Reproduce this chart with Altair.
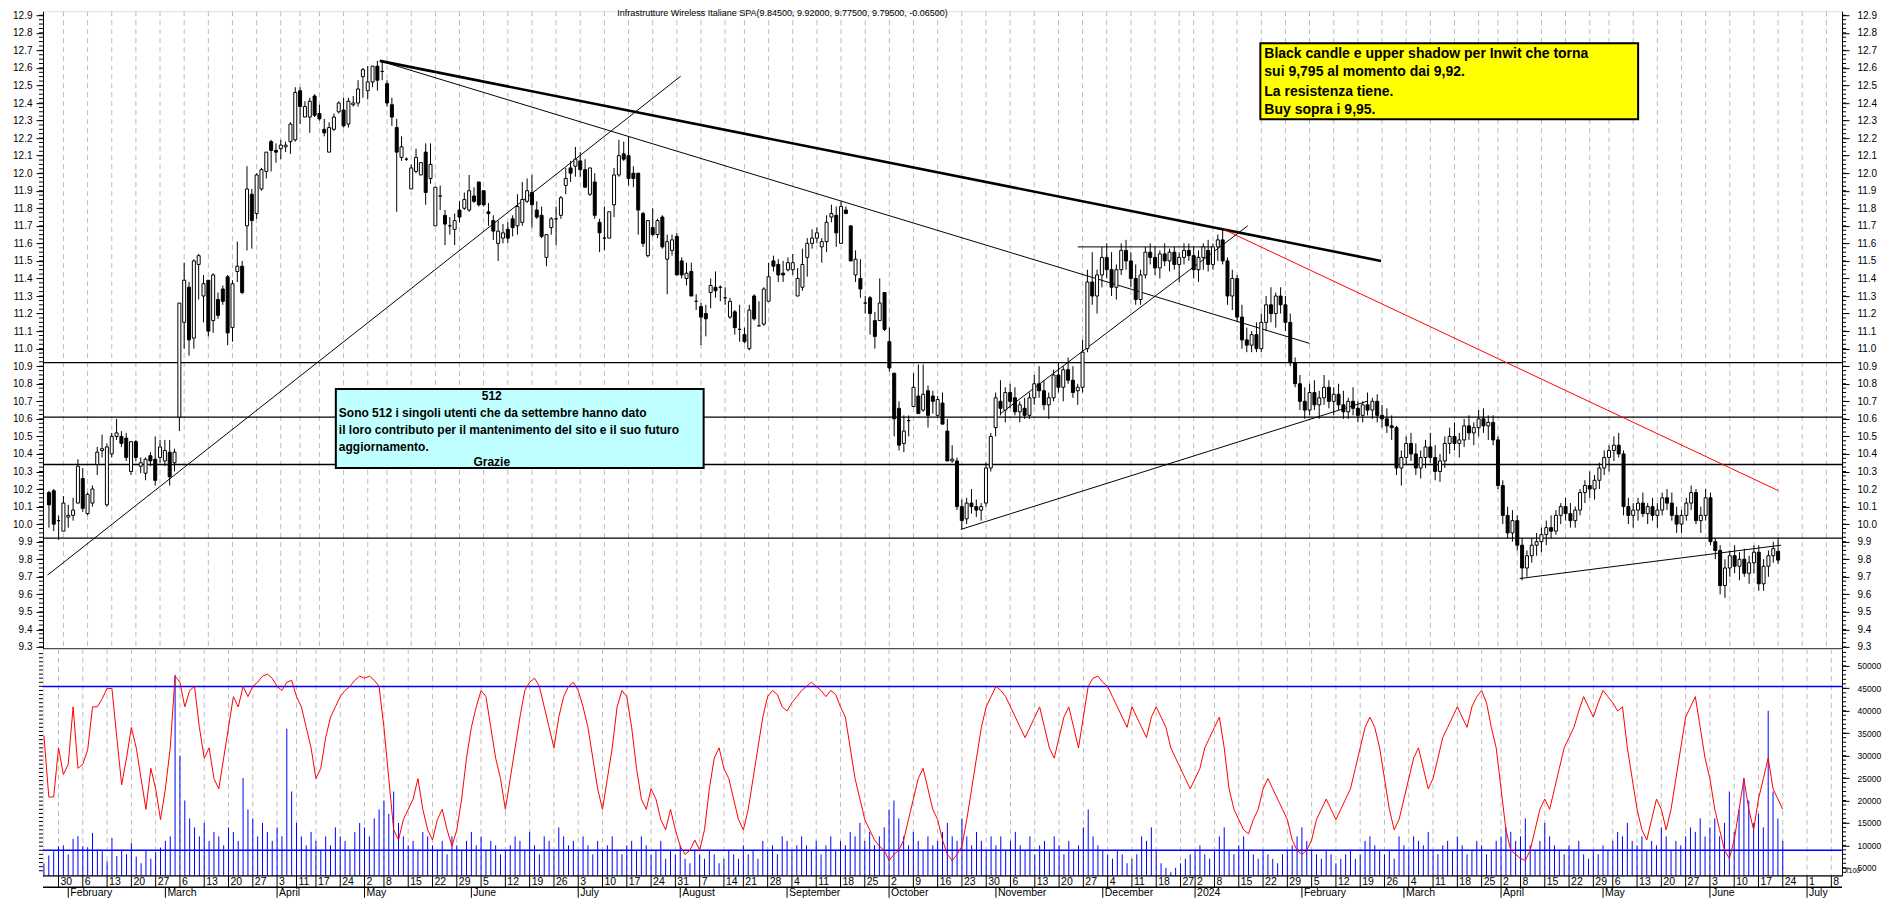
import altair as alt
import pandas as pd

# ---------------- layout ----------------
W = 1800
H1 = 638
H2 = 227
X_DOMAIN = [-0.2, 370.2]
P_DOMAIN = [9.289, 12.923]
OSC_DOMAIN = [-2.44, 108.3]
VOL_DOMAIN = [3218, 53787]
FONT = "Liberation Sans"

# ---------------- calendar ----------------
FIRST_DAY = "2023-01-25"
AXIS_END = "2024-07-10"
HOLIDAYS = ["2023-04-07", "2023-04-10", "2023-05-01", "2023-08-15", "2023-12-25",
            "2023-12-26", "2024-01-01", "2024-03-29", "2024-04-01", "2024-05-01"]

# ---------------- data ----------------
OPEN = [
    10.18, 10.19, 10.02, 9.96, 10.04, 10.05, 10.12, 10.26, 10.06, 10.12,
    10.34, 10.42, 10.11, 10.40, 10.50, 10.50, 10.49, 10.30, 10.47, 10.33,
    10.29, 10.39, 10.37, 10.38, 10.36, 10.41, 10.35, 10.61, 11.15, 11.35,
    11.06, 11.48, 11.30, 11.39, 11.16, 11.28, 11.34, 11.41, 11.12, 11.44,
    11.47, 11.70, 11.88, 11.77, 11.91, 12.01, 12.18, 12.13, 12.14, 12.15,
    12.18, 12.19, 12.47, 12.32, 12.32, 12.44, 12.34, 12.25, 12.12, 12.25,
    12.35, 12.36, 12.28, 12.39, 12.40, 12.55, 12.47, 12.52, 12.61, 12.58,
    12.51, 12.39, 12.26, 12.09, 12.08, 11.91, 12.01, 11.99, 12.12, 11.97,
    11.70, 11.87, 11.76, 11.70, 11.68, 11.79, 11.80, 11.79, 11.87, 11.95,
    11.90, 11.78, 11.73, 11.60, 11.63, 11.68, 11.74, 11.70, 11.72, 11.84,
    11.89, 11.79, 11.76, 11.52, 11.69, 11.74, 11.76, 11.93, 12.03, 12.04,
    12.07, 12.02, 11.88, 11.95, 11.72, 11.63, 11.63, 11.82, 11.99, 12.11,
    12.10, 12.00, 12.00, 11.77, 11.53, 11.69, 11.65, 11.75, 11.51, 11.56,
    11.64, 11.50, 11.40, 11.44, 11.27, 11.24, 11.20, 11.32, 11.35, 11.35,
    11.29, 11.18, 11.21, 11.11, 11.08, 11.00, 11.30, 11.13, 11.14, 11.27,
    11.50, 11.48, 11.43, 11.45, 11.45, 11.30, 11.35, 11.52, 11.60, 11.63,
    11.58, 11.61, 11.75, 11.76, 11.60, 11.79, 11.70, 11.42, 11.40, 11.26,
    11.29, 11.16, 11.16, 11.32, 11.04, 10.86, 10.66, 10.46, 10.59, 10.67,
    10.73, 10.65, 10.76, 10.73, 10.62, 10.69, 10.53, 10.36,
    10.36, 10.10, 10.03, 10.12, 10.10, 10.08, 10.12, 10.32, 10.55, 10.70,
    10.65, 10.75, 10.72, 10.64, 10.66, 10.62, 10.72, 10.80, 10.76, 10.68,
    10.72, 10.85, 10.78, 10.88, 10.82, 10.76, 10.78, 11.00, 11.38, 11.30,
    11.42, 11.52, 11.45, 11.35, 11.45, 11.56, 11.50, 11.40, 11.28, 11.42,
    11.55, 11.52, 11.46, 11.54, 11.50, 11.55, 11.48, 11.52, 11.56, 11.53,
    11.45, 11.52, 11.56, 11.48, 11.58, 11.62, 11.50, 11.30, 11.40, 11.18,
    11.05, 11.02, 11.08, 11.00, 11.15, 11.25, 11.20, 11.30, 11.25, 11.15,
    10.92, 10.80, 10.70, 10.65, 10.75, 10.68, 10.72, 10.78, 10.70, 10.74,
    10.68, 10.64, 10.70, 10.66, 10.62, 10.68, 10.65, 10.70, 10.62, 10.60,
    10.56, 10.55, 10.32, 10.38, 10.46, 10.40, 10.32, 10.38, 10.44, 10.38,
    10.30, 10.36, 10.46, 10.50, 10.46, 10.48, 10.56, 10.52, 10.55, 10.60,
    10.56, 10.58, 10.48, 10.22, 10.05, 9.95, 10.02, 9.88, 9.75, 9.82,
    9.88, 9.90, 9.94, 9.98, 9.96, 10.05, 10.10, 10.06, 10.02, 10.08,
    10.18, 10.22, 10.20, 10.25, 10.32, 10.38, 10.42, 10.45, 10.40, 10.10,
    10.05, 10.08, 10.12, 10.06, 10.10, 10.05, 10.08, 10.15, 10.12, 10.05,
    10.00, 10.05, 10.12, 10.18, 10.02, 10.05, 10.15, 9.90, 9.85, 9.65,
    9.75, 9.82, 9.76, 9.80, 9.72, 9.78, 9.84, 9.66, 9.76, 9.82, 9.845,
]
HIGH = [
    10.19, 10.20, 10.05, 10.16, 10.11, 10.15, 10.37, 10.32, 10.18, 10.22,
    10.44, 10.51, 10.46, 10.52, 10.60, 10.53, 10.52, 10.47, 10.48, 10.38,
    10.38, 10.41, 10.50, 10.48, 10.48, 10.48, 10.43, 11.26, 11.49, 11.38,
    11.51, 11.54, 11.42, 11.39, 11.43, 11.32, 11.36, 11.42, 11.39, 11.61,
    11.50, 12.04, 11.91, 12.00, 12.03, 12.12, 12.19, 12.17, 12.19, 12.18,
    12.29, 12.49, 12.49, 12.41, 12.43, 12.45, 12.39, 12.31, 12.29, 12.34,
    12.41, 12.43, 12.43, 12.44, 12.53, 12.60, 12.61, 12.61, 12.64, 12.64,
    12.53, 12.43, 12.31, 12.21, 12.09, 12.05, 12.14, 12.06, 12.17, 12.17,
    11.92, 11.93, 11.79, 11.75, 11.77, 11.84, 11.89, 11.99, 11.92, 11.95,
    11.90, 11.83, 11.76, 11.73, 11.71, 11.72, 11.76, 11.88, 11.95, 11.97,
    11.99, 11.84, 11.81, 11.65, 11.75, 11.81, 11.87, 12.03, 12.07, 12.15,
    12.12, 12.08, 12.03, 12.00, 11.74, 11.81, 11.78, 12.03, 12.19, 12.18,
    12.21, 12.04, 12.00, 11.78, 11.73, 11.80, 11.74, 11.76, 11.65, 11.65,
    11.66, 11.52, 11.49, 11.49, 11.31, 11.26, 11.25, 11.40, 11.44, 11.36,
    11.35, 11.29, 11.22, 11.25, 11.12, 11.25, 11.31, 11.27, 11.35, 11.49,
    11.53, 11.51, 11.50, 11.52, 11.54, 11.46, 11.57, 11.63, 11.68, 11.69,
    11.63, 11.76, 11.82, 11.81, 11.84, 11.81, 11.70, 11.56, 11.51, 11.30,
    11.30, 11.21, 11.40, 11.32, 11.12, 10.86, 10.70, 10.62, 10.62, 10.86,
    10.91, 10.91, 10.79, 10.76, 10.73, 10.75, 10.60, 10.45,
    10.38, 10.14, 10.15, 10.20, 10.14, 10.12, 10.35, 10.52, 10.75, 10.82,
    10.78, 10.80, 10.78, 10.70, 10.72, 10.75, 10.85, 10.90, 10.82, 10.75,
    10.88, 10.92, 10.90, 10.95, 10.90, 10.80, 11.05, 11.45, 11.55, 11.45,
    11.58, 11.60, 11.55, 11.48, 11.60, 11.62, 11.55, 11.48, 11.45, 11.58,
    11.60, 11.58, 11.56, 11.60, 11.57, 11.58, 11.55, 11.60, 11.60, 11.58,
    11.56, 11.60, 11.62, 11.60, 11.65, 11.68, 11.52, 11.45, 11.42, 11.25,
    11.12, 11.10, 11.15, 11.20, 11.30, 11.35, 11.32, 11.35, 11.30, 11.20,
    10.95, 10.85, 10.78, 10.80, 10.82, 10.76, 10.85, 10.82, 10.78, 10.80,
    10.76, 10.72, 10.78, 10.70, 10.70, 10.75, 10.72, 10.74, 10.68, 10.66,
    10.62, 10.56, 10.42, 10.50, 10.52, 10.46, 10.42, 10.48, 10.52, 10.45,
    10.40, 10.50, 10.55, 10.58, 10.52, 10.60, 10.62, 10.58, 10.65, 10.66,
    10.62, 10.62, 10.50, 10.25, 10.10, 10.08, 10.05, 9.92, 9.85, 9.92,
    9.95, 9.98, 10.02, 10.05, 10.08, 10.12, 10.15, 10.12, 10.10, 10.20,
    10.25, 10.30, 10.28, 10.35, 10.42, 10.45, 10.50, 10.52, 10.42, 10.15,
    10.12, 10.15, 10.18, 10.12, 10.15, 10.12, 10.18, 10.20, 10.18, 10.10,
    10.08, 10.15, 10.22, 10.20, 10.10, 10.20, 10.18, 9.92, 9.88, 9.80,
    9.85, 9.88, 9.84, 9.86, 9.82, 9.88, 9.88, 9.80, 9.85, 9.90, 9.92,
]
LOW = [
    9.98, 9.96, 9.91, 9.96, 9.98, 10.02, 10.12, 10.07, 10.05, 10.10,
    10.28, 10.38, 10.10, 10.38, 10.48, 10.44, 10.36, 10.28, 10.36, 10.29,
    10.25, 10.33, 10.22, 10.35, 10.33, 10.22, 10.30, 10.53, 11.00, 10.96,
    11.00, 11.28, 11.15, 11.07, 11.09, 11.17, 11.25, 11.02, 11.04, 11.38,
    11.31, 11.56, 11.57, 11.74, 11.90, 11.97, 12.01, 12.06, 12.08, 12.12,
    12.11, 12.18, 12.28, 12.32, 12.23, 12.32, 12.30, 12.21, 12.12, 12.24,
    12.34, 12.26, 12.26, 12.38, 12.38, 12.43, 12.42, 12.49, 12.47, 12.53,
    12.38, 12.27, 11.78, 12.07, 12.07, 11.91, 12.00, 11.99, 11.82, 11.94,
    11.70, 11.79, 11.59, 11.65, 11.59, 11.72, 11.79, 11.78, 11.83, 11.81,
    11.81, 11.70, 11.62, 11.50, 11.60, 11.60, 11.64, 11.65, 11.70, 11.83,
    11.69, 11.74, 11.63, 11.47, 11.65, 11.59, 11.74, 11.88, 11.95, 11.98,
    11.98, 11.92, 11.87, 11.74, 11.55, 11.56, 11.63, 11.75, 11.98, 12.07,
    11.93, 11.92, 11.65, 11.58, 11.52, 11.64, 11.63, 11.57, 11.31, 11.53,
    11.42, 11.40, 11.36, 11.30, 11.22, 11.02, 11.07, 11.23, 11.29, 11.27,
    11.25, 11.17, 11.08, 11.04, 11.03, 10.99, 11.16, 11.13, 11.13, 11.27,
    11.44, 11.38, 11.38, 11.44, 11.42, 11.30, 11.33, 11.41, 11.57, 11.60,
    11.49, 11.55, 11.72, 11.58, 11.60, 11.77, 11.50, 11.38, 11.29, 11.20,
    11.08, 11.00, 11.16, 11.10, 10.87, 10.50, 10.42, 10.41, 10.50, 10.67,
    10.63, 10.64, 10.55, 10.63, 10.61, 10.57, 10.36, 10.35,
    10.08, 9.97, 10.00, 10.06, 10.04, 10.02, 10.10, 10.30, 10.50, 10.62,
    10.58, 10.66, 10.62, 10.58, 10.60, 10.60, 10.68, 10.72, 10.65, 10.60,
    10.70, 10.75, 10.70, 10.80, 10.72, 10.68, 10.75, 10.98, 11.25, 11.20,
    11.35, 11.40, 11.30, 11.28, 11.42, 11.45, 11.35, 11.25, 11.25, 11.40,
    11.48, 11.42, 11.40, 11.47, 11.44, 11.45, 11.38, 11.48, 11.50, 11.40,
    11.38, 11.45, 11.44, 11.45, 11.50, 11.48, 11.25, 11.22, 11.15, 11.00,
    10.98, 10.98, 10.98, 10.98, 11.10, 11.15, 11.12, 11.20, 11.10, 10.90,
    10.78, 10.65, 10.60, 10.62, 10.65, 10.60, 10.68, 10.66, 10.62, 10.65,
    10.60, 10.60, 10.62, 10.58, 10.58, 10.62, 10.60, 10.58, 10.55, 10.52,
    10.48, 10.28, 10.22, 10.34, 10.36, 10.28, 10.26, 10.32, 10.35, 10.25,
    10.24, 10.32, 10.40, 10.42, 10.38, 10.44, 10.48, 10.45, 10.50, 10.52,
    10.48, 10.45, 10.20, 10.00, 9.92, 9.90, 9.85, 9.68, 9.70, 9.78,
    9.82, 9.84, 9.88, 9.92, 9.94, 10.00, 10.02, 9.98, 9.98, 10.05,
    10.12, 10.15, 10.14, 10.20, 10.28, 10.30, 10.36, 10.38, 10.05, 10.00,
    9.98, 10.02, 10.04, 10.00, 10.02, 9.98, 10.05, 10.08, 10.02, 9.95,
    9.95, 10.02, 10.08, 10.00, 9.95, 10.02, 9.88, 9.80, 9.60, 9.58,
    9.70, 9.72, 9.68, 9.70, 9.66, 9.72, 9.62, 9.62, 9.70, 9.78, 9.775,
]
CLOSE = [
    10.11, 10.00, 10.02, 10.12, 10.05, 10.08, 10.33, 10.09, 10.17, 10.20,
    10.41, 10.43, 10.44, 10.50, 10.52, 10.46, 10.38, 10.47, 10.38, 10.35,
    10.37, 10.36, 10.25, 10.44, 10.42, 10.27, 10.41, 11.26, 11.39, 11.05,
    11.50, 11.53, 11.37, 11.10, 11.42, 11.19, 11.27, 11.09, 11.37, 11.47,
    11.32, 11.91, 11.73, 11.99, 12.02, 12.12, 12.13, 12.12, 12.16, 12.16,
    12.28, 12.46, 12.38, 12.38, 12.41, 12.33, 12.31, 12.23, 12.26, 12.32,
    12.40, 12.27, 12.41, 12.40, 12.48, 12.59, 12.52, 12.61, 12.53, 12.58,
    12.40, 12.32, 12.12, 12.15, 12.08, 12.03, 12.09, 12.06, 11.89, 12.05,
    11.92, 11.87, 11.71, 11.70, 11.73, 11.75, 11.85, 11.90, 11.84, 11.82,
    11.82, 11.77, 11.67, 11.67, 11.66, 11.63, 11.69, 11.81, 11.85, 11.90,
    11.82, 11.75, 11.64, 11.65, 11.74, 11.74, 11.86, 11.97, 12.00, 12.08,
    12.02, 11.92, 12.03, 11.76, 11.66, 11.63, 11.78, 11.99, 12.10, 12.08,
    11.97, 11.97, 11.79, 11.60, 11.73, 11.65, 11.73, 11.58, 11.61, 11.62,
    11.42, 11.42, 11.43, 11.30, 11.27, 11.18, 11.17, 11.36, 11.33, 11.35,
    11.29, 11.27, 11.12, 11.11, 11.04, 11.22, 11.17, 11.13, 11.34, 11.41,
    11.47, 11.42, 11.42, 11.49, 11.49, 11.40, 11.48, 11.60, 11.63, 11.66,
    11.61, 11.72, 11.77, 11.66, 11.81, 11.77, 11.50, 11.51, 11.34, 11.26,
    11.20, 11.07, 11.26, 11.11, 10.89, 10.60, 10.45, 10.53, 10.59, 10.78,
    10.63, 10.74, 10.62, 10.70, 10.71, 10.57, 10.36, 10.37,
    10.10, 10.02, 10.12, 10.10, 10.08, 10.10, 10.32, 10.50, 10.72, 10.66,
    10.75, 10.70, 10.64, 10.68, 10.62, 10.72, 10.80, 10.76, 10.68, 10.72,
    10.85, 10.78, 10.88, 10.82, 10.75, 10.78, 10.98, 11.38, 11.30, 11.42,
    11.52, 11.45, 11.35, 11.45, 11.56, 11.50, 11.40, 11.28, 11.42, 11.55,
    11.52, 11.46, 11.54, 11.50, 11.55, 11.48, 11.52, 11.56, 11.53, 11.45,
    11.52, 11.58, 11.48, 11.58, 11.62, 11.50, 11.30, 11.40, 11.18, 11.05,
    11.02, 11.08, 11.00, 11.15, 11.25, 11.20, 11.30, 11.25, 11.15, 10.92,
    10.80, 10.70, 10.65, 10.75, 10.68, 10.72, 10.78, 10.70, 10.74, 10.68,
    10.64, 10.70, 10.66, 10.62, 10.68, 10.65, 10.70, 10.62, 10.60, 10.56,
    10.55, 10.32, 10.38, 10.46, 10.40, 10.32, 10.38, 10.44, 10.38, 10.30,
    10.36, 10.46, 10.50, 10.46, 10.48, 10.56, 10.52, 10.55, 10.60, 10.56,
    10.58, 10.48, 10.22, 10.05, 9.95, 10.02, 9.88, 9.75, 9.82, 9.88,
    9.90, 9.94, 9.98, 9.96, 10.05, 10.10, 10.06, 10.02, 10.08, 10.18,
    10.22, 10.20, 10.25, 10.32, 10.38, 10.42, 10.45, 10.40, 10.10, 10.05,
    10.08, 10.12, 10.06, 10.10, 10.05, 10.08, 10.15, 10.12, 10.05, 10.00,
    10.05, 10.12, 10.18, 10.02, 10.05, 10.15, 9.90, 9.85, 9.65, 9.75,
    9.82, 9.76, 9.80, 9.72, 9.78, 9.84, 9.66, 9.76, 9.82, 9.86, 9.795,
]
VOLUME = [
    5960, 7740, 8700, 9800, 10000, 7960, 11450, 12040, 9800, 9580, 12780, 9060, 8700, 6470, 11670, 7600,
    9000, 8000, 10500, 7500, 6000, 9000, 7000, 8500, 9500, 11000, 12000,
    48000, 30000, 20000, 16000, 14000, 12000, 15000, 11000, 13000,
    12000, 10000, 14000, 13000, 11000, 25000, 18000, 16000, 12000, 15000, 13000, 11000,
    14000, 12000, 36000, 22000, 15000, 12000, 10000, 13000, 11000, 9000, 12000, 10000, 14000, 12000, 11000, 9000, 13000, 15000,
    14000, 12000, 16000, 18000, 20000, 17000, 22000, 15000, 12000, 10000,
    11000, 9000, 13000, 12000, 10000, 9000, 11000, 8000, 12000, 10000, 9000, 11000, 13000, 10000, 12000, 9000, 11000, 10000, 8000, 9000,
    10000, 12000, 11000, 9000, 13000, 10000, 8000, 12000, 11000, 9000, 14000, 12000, 10000, 11000, 9000, 12000, 10000, 8000,
    11000, 9000, 10000, 12000, 9000, 8000, 10000, 11000, 9000, 12000, 10000, 8000, 9000, 11000, 7000, 9000, 8000, 10000, 7000, 6000, 9000, 8000,
    7000, 9000, 8000, 6000, 7000, 9000, 8000, 7000, 10000, 8000, 9000, 7000, 11000, 9000, 10000, 8000, 12000, 11000, 9000, 10000, 12000,
    10000, 9000, 11000, 8000, 10000, 12000, 9000, 11000, 10000, 13000, 12000, 15000, 11000, 13000, 10000, 12000, 14000, 18000, 20000,
    16000, 12000, 10000, 13000, 11000, 9000, 12000, 10000, 11000, 13000, 15000, 12000, 11000, 16000, 12000, 10000, 13000, 11000, 9000, 12000,
    10000, 12000, 9000, 11000, 13000, 10000, 9000, 12000, 8000, 10000, 11000, 9000, 12000, 10000, 8000, 11000, 9000, 10000, 14000, 18000, 12000, 10000,
    9000, 8000, 7000, 9000, 8000, 6000, 7000, 8000, 12000, 11000, 14000, 9000, 6000, 5000, 4000, 5000, 6000, 7000, 8000,
    9000, 10000, 8000, 7000, 9000, 12000, 14000, 9000, 8000, 10000, 12000, 9000, 8000, 7000, 9000, 8000, 7000, 6000, 8000, 9000, 10000, 12000,
    14000, 11000, 9000, 8000, 7000, 9000, 8000, 6000, 7000, 8000, 9000, 7000, 8000, 11000, 12000, 10000, 9000, 8000, 9000, 7000, 12000,
    10000, 9000, 12000, 11000, 10000, 13000, 9000, 8000, 10000, 11000, 9000, 12000, 10000, 8000, 9000, 11000, 10000, 8000, 9000, 11000,
    12000, 14000, 13000, 11000, 12000, 16000, 10000, 9000, 11000, 15000, 12000, 10000, 9000, 8000, 10000, 9000, 11000, 8000, 7000, 9000, 8000,
    10000, 9000, 11000, 13000, 12000, 15000, 11000, 10000, 12000, 9000, 11000, 10000, 14000, 12000, 9000, 11000, 10000, 12000, 14000, 13000, 16000, 12000,
    14000, 16000, 12000, 15000, 22000, 13000, 18000, 25000, 20000, 15000, 17000, 14000, 40000, 22000, 16000, 11000,
]
OSC = [
    66, 36, 36, 60, 47, 52, 80, 50, 52, 59, 80, 80, 84, 89, 89, 65, 42,
    55, 70, 60, 45, 30, 50, 40, 25, 40, 60,
    95, 92, 80, 88, 90, 70, 55, 60, 45,
    40, 55, 70, 85, 80, 90, 85, 90, 92, 95, 96, 94,
    90, 88, 92, 93, 85, 80, 70, 60, 45, 50, 65, 75, 80, 85, 88, 90, 93, 95,
    94, 95, 93, 90, 70, 45, 20, 15, 25, 30,
    35, 45, 30, 20, 15, 25, 30, 20, 12, 20, 35, 55, 70, 80, 88, 85, 70, 55, 45, 30,
    45, 60, 75, 88, 92, 94, 90, 80, 70, 60, 75, 85, 90, 92, 88, 80, 70, 55,
    40, 30, 45, 60, 80, 88, 85, 70, 50, 35, 30, 40, 35, 25, 20, 30, 20, 12, 8, 10, 15, 10,
    20, 40, 55, 60, 50, 45, 35, 25, 20, 30, 45, 60, 75, 85, 88, 86, 80, 78, 82, 85, 88,
    90, 92, 90, 88, 85, 88, 86, 80, 75, 60, 45, 35, 25, 20, 15, 12, 10, 5, 8,
    10, 15, 25, 35, 45, 50, 40, 30, 25, 15, 8, 5, 8, 12, 25, 40, 55, 70, 80, 85,
    90, 88, 85, 80, 75, 70, 65, 70, 75, 80, 70, 60, 55, 65, 75, 80, 70, 60, 75, 90, 94, 95,
    92, 90, 85, 80, 75, 70, 80, 75, 70, 65, 75, 80, 75, 70, 60, 55, 50, 45, 40,
    45, 50, 60, 65, 70, 75, 60, 40, 30, 25, 20, 18, 25, 30, 40, 45, 40, 35, 30, 25, 15, 10,
    8, 10, 15, 25, 30, 35, 30, 25, 30, 35, 40, 50, 60, 70, 75, 70, 60, 45, 30, 20, 25,
    35, 45, 55, 60, 50, 40, 45, 55, 65, 70, 75, 80, 75, 70, 80, 85, 88, 82, 70, 60,
    40, 20, 10, 8, 6, 5, 10, 20, 30, 35, 30, 40, 50, 60, 65, 70, 78, 85, 80, 75, 82,
    88, 85, 82, 78, 80, 60, 45, 30, 20, 15, 25, 35, 30, 20, 30, 45, 60, 75, 80, 85, 70, 55,
    45, 30, 20, 10, 6, 15, 30, 45, 30, 20, 35, 45, 55, 40, 35, 30,
]

# horizontal support / resistance levels
LEVELS = [10.92, 10.61, 10.34, 9.92]
# trend lines: (day index, price) -> (day index, price)
THIN_X1 = [68.5, -0.27, 188.8, 197.0, 213.0, 304.5]
THIN_Y1 = [12.64, 9.71, 9.97, 10.63, 11.58, 9.69]
THIN_X2 = [261.0, 130.8, 272.9, 248.2, 240.8, 358.6]
THIN_Y2 = [11.03, 12.553, 10.70, 11.70, 11.58, 9.88]
THICK_X1, THICK_Y1, THICK_X2, THICK_Y2 = [68.5], [12.64], [275.8], [11.50]
RED_X1, RED_Y1, RED_X2, RED_Y2 = [243.2], [11.68], [358.1], [10.19]
OSC_LEVELS = [90, 10]

TITLE = "Infrastrutture Wireless Italiane SPA(9.84500, 9.92000, 9.77500, 9.79500, -0.06500)"
YELLOW_LINES = ["Black candle e upper shadow per Inwit che torna",
                "sui 9,795 al momento dai 9,92.",
                "La resistenza tiene.",
                "Buy sopra i 9,95."]
CYAN_LINES = ["Sono 512 i singoli utenti che da settembre hanno dato",
              "il loro contributo per il mantenimento del sito e il suo futuro",
              "aggiornamento."]
CYAN_HEAD = "512"
CYAN_TAIL = "Grazie"

# ---------------- frames ----------------
cal = [d for d in pd.bdate_range(FIRST_DAY, AXIS_END) if d.strftime("%Y-%m-%d") not in HOLIDAYS]
n = len(CLOSE)
df = pd.DataFrame({"i": list(range(n)), "open": OPEN, "high": HIGH, "low": LOW,
                   "close": CLOSE, "vol": VOLUME, "osc": OSC})

weeks, months = [], []
for k in range(1, len(cal)):
    d, p = cal[k], cal[k - 1]
    if d.isocalendar()[1] != p.isocalendar()[1]:
        weeks.append({"i": k, "label": str(d.day)})
    if d.month != p.month:
        months.append({"i": k, "label": str(d.year) if d.month == 1 else d.strftime("%B")})
wk = pd.DataFrame(weeks)
mo = pd.DataFrame(months)

one = pd.DataFrame({"k": [0]})


def X(field="i:Q"):
    return alt.X(field, scale=alt.Scale(domain=X_DOMAIN, nice=False, zero=False), axis=None)


PS = alt.Scale(domain=P_DOMAIN, nice=False, zero=False)
OS = alt.Scale(domain=OSC_DOMAIN, nice=False, zero=False)
VS = alt.Scale(domain=VOL_DOMAIN, nice=False, zero=False)

p_vals = [round(9.3 + 0.1 * k, 1) for k in range(37)]
p_minor = [round(9.3 + 0.025 * k, 3) for k in range(145)]
o_vals = list(range(0, 101, 10))
o_minor = list(range(0, 107, 2))
v_vals = list(range(5000, 50001, 5000))
v_minor = list(range(4000, 53001, 1000))

ax_common = dict(domain=True, domainColor="black", tickColor="black", labelColor="black",
                 labelFont=FONT, grid=False, title=None, tickSize=7, domainWidth=1)

# ---------------- price panel ----------------
grid1 = alt.Chart(wk).mark_rule(color="#bcbcbc", strokeDash=[5, 4], strokeWidth=1).encode(
    x=X(), y=alt.value(0), y2=alt.value(H1))

lev = alt.Chart(pd.DataFrame({"p": LEVELS})).mark_rule(color="black", strokeWidth=1.3).encode(
    x=alt.value(0), x2=alt.value(W),
    y=alt.Y("p:Q", scale=PS, axis=alt.Axis(orient="left", values=p_vals, format=".1f",
                                           labelFontSize=10, labelPadding=4, **ax_common)))

right_axis = alt.Chart(pd.DataFrame({"p": [10.0]})).mark_point(opacity=0).encode(
    x=alt.value(0),
    y=alt.Y("p:Q", scale=PS, axis=alt.Axis(orient="right", values=p_vals, format=".1f",
                                           labelFontSize=10, labelPadding=8, **ax_common)))

pm = pd.DataFrame({"p": p_minor})
minor_l = alt.Chart(pm).mark_rule(color="black").encode(
    x=alt.value(-4), x2=alt.value(0), y=alt.Y("p:Q", scale=PS, axis=None))
minor_r = alt.Chart(pm).mark_rule(color="black").encode(
    x=alt.value(W), x2=alt.value(W + 4), y=alt.Y("p:Q", scale=PS, axis=None))


def seg(x1, y1, x2, y2, color, width):
    d = pd.DataFrame({"x": x1, "y": y1, "x2": x2, "y2": y2})
    return alt.Chart(d).mark_rule(color=color, strokeWidth=width).encode(
        x=X("x:Q"), x2="x2:Q", y=alt.Y("y:Q", scale=PS, axis=None), y2="y2:Q")


thin = seg(THIN_X1, THIN_Y1, THIN_X2, THIN_Y2, "black", 1)
thick = seg(THICK_X1, THICK_Y1, THICK_X2, THICK_Y2, "black", 2.6)
red = seg(RED_X1, RED_Y1, RED_X2, RED_Y2, "#ff0000", 1)

wick = alt.Chart(df).mark_rule(color="black", strokeWidth=1).encode(
    x=X(), y=alt.Y("low:Q", scale=PS, axis=None), y2="high:Q")
body = alt.Chart(df).mark_bar(size=3, stroke="black", strokeWidth=1).encode(
    x=X(), y=alt.Y("open:Q", scale=PS, axis=None), y2="close:Q",
    fill=alt.condition("datum.close >= datum.open", alt.value("white"), alt.value("black")))

bottom_line = alt.Chart(one).mark_rule(color="black", strokeWidth=1.3).encode(
    x=alt.value(0), x2=alt.value(W), y=alt.value(H1))

title = alt.Chart(one).mark_text(text=TITLE, font=FONT, fontSize=9, align="center",
                                 baseline="middle", color="black").encode(
    x=alt.value(740), y=alt.value(2))

ybox = alt.Chart(one).mark_rect(fill="#ffff00", stroke="black", strokeWidth=2).encode(
    x=alt.value(1218), x2=alt.value(1596), y=alt.value(32), y2=alt.value(108))
ytext = alt.Chart(pd.DataFrame({"t": YELLOW_LINES, "py": [43, 61, 80.5, 98.5]})).mark_text(
    font=FONT, fontSize=14, fontWeight="bold", align="left", baseline="middle", color="black").encode(
    x=alt.value(1222), y=alt.Y("py:Q", scale=None), text="t:N")

cbox = alt.Chart(one).mark_rect(fill="#c0ffff", stroke="black", strokeWidth=2).encode(
    x=alt.value(293), x2=alt.value(661), y=alt.value(378), y2=alt.value(457))
ctext = alt.Chart(pd.DataFrame({"t": CYAN_LINES, "py": [402, 419, 436]})).mark_text(
    font=FONT, fontSize=12, fontWeight="bold", align="left", baseline="middle", color="black").encode(
    x=alt.value(296), y=alt.Y("py:Q", scale=None), text="t:N")
chead = alt.Chart(pd.DataFrame({"t": [CYAN_HEAD, CYAN_TAIL], "py": [385, 451]})).mark_text(
    font=FONT, fontSize=12, fontWeight="bold", align="center", baseline="middle", color="black").encode(
    x=alt.value(449), y=alt.Y("py:Q", scale=None), text="t:N")

pad_left = alt.Chart(one).mark_text(text=".", opacity=0, fontSize=1).encode(
    x=alt.value(-34), y=alt.value(300))

price = alt.layer(grid1, lev, right_axis, minor_l, minor_r, thin, thick, red, wick, body,
                  bottom_line, title, ybox, ytext, cbox, ctext, chead, pad_left).resolve_axis(
    y="independent").properties(width=W, height=H1)

# ---------------- lower panel ----------------
grid2 = alt.Chart(wk).mark_rule(color="#bcbcbc", strokeDash=[5, 4], strokeWidth=1).encode(
    x=X(), y=alt.value(0), y2=alt.value(H2))

vol = alt.Chart(df).mark_rule(color="#0000ff", strokeWidth=1).encode(
    x=X(), y=alt.Y("vol:Q", scale=VS, axis=alt.Axis(orient="right", values=v_vals, format="d",
                                                      labelFontSize=8.5, labelPadding=8, **ax_common)),
    y2=alt.value(H2))
vminor = alt.Chart(pd.DataFrame({"v": v_minor})).mark_rule(color="black").encode(
    x=alt.value(W), x2=alt.value(W + 4), y=alt.Y("v:Q", scale=VS, axis=None))

osc_line = alt.Chart(df).mark_line(color="#ff0000", strokeWidth=1).encode(
    x=X(), y=alt.Y("osc:Q", scale=OS, axis=alt.Axis(orient="left", values=o_vals, format="d",
                                                      labelFontSize=10, labelPadding=4, **ax_common)))
osc_lev = alt.Chart(pd.DataFrame({"o": OSC_LEVELS})).mark_rule(color="#0000ff", strokeWidth=1.5).encode(
    x=alt.value(0), x2=alt.value(W), y=alt.Y("o:Q", scale=OS, axis=None))
ominor = alt.Chart(pd.DataFrame({"o": o_minor})).mark_rule(color="black").encode(
    x=alt.value(-4), x2=alt.value(0), y=alt.Y("o:Q", scale=OS, axis=None))
osc_group = alt.layer(osc_lev, ominor, osc_line)

# date axis below
R1 = 11.5
R2 = 22
axis_lines = alt.Chart(pd.DataFrame({"py": [H2, H2 + R1]})).mark_rule(color="black", strokeWidth=1.3).encode(
    x=alt.value(0), x2=alt.value(W), y=alt.Y("py:Q", scale=None))
wk_ticks = alt.Chart(wk).mark_rule(color="black").encode(
    x=X(), y=alt.value(H2), y2=alt.value(H2 + R1))
wk_text = alt.Chart(wk).mark_text(font=FONT, fontSize=10.5, align="left", baseline="middle", dx=2,
                                  color="black").encode(
    x=X(), y=alt.value(H2 + 6), text="label:N")
mo_ticks = alt.Chart(mo).mark_rule(color="black").encode(
    x=X(), y=alt.value(H2 + R1), y2=alt.value(H2 + R2))
mo_text = alt.Chart(mo).mark_text(font=FONT, fontSize=10.5, align="left", baseline="middle", dx=2,
                                  color="black").encode(
    x=X(), y=alt.value(H2 + 17), text="label:N")
x100 = alt.Chart(one).mark_text(text="x100", font=FONT, fontSize=7, align="left", baseline="middle",
                                color="black").encode(x=alt.value(W + 3), y=alt.value(H2 - 5))

lower = alt.layer(grid2, vol, vminor, osc_group, axis_lines, wk_ticks, wk_text, mo_ticks, mo_text,
                  x100).resolve_scale(y="independent").properties(width=W, height=H2)

chart = alt.vconcat(price, lower, spacing=0, bounds="flush").properties(
    padding={"left": 0, "top": 0, "right": 0, "bottom": 0}
).configure_view(stroke=None).configure(background="white")

chart.save("out.html", embed_options={"renderer": "svg", "actions": False})
